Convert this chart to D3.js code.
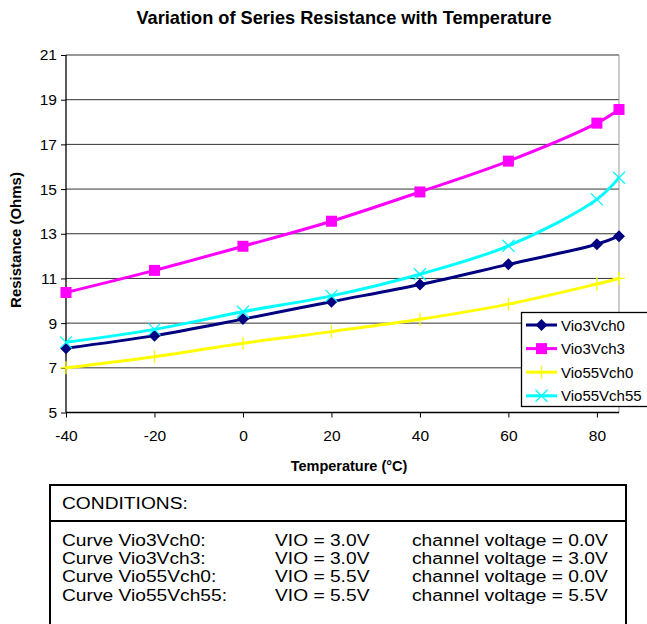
<!DOCTYPE html>
<html>
<head>
<meta charset="utf-8">
<script src="https://cdn.jsdelivr.net/npm/d3@7"></script>
<style>
  body { margin: 0; background: #fff; }
  text { font-family: "Liberation Sans", Arial, sans-serif; }
</style>
</head>
<body>
<div class="container"></div>
<script>
// data
var temps = [-40, -20, 0, 20, 40, 60, 80, 85];
var vio3vch0   = [7.88, 8.44, 9.18, 9.96, 10.73, 11.63, 12.53, 12.89];
var vio3vch3   = [10.37, 11.36, 12.44, 13.56, 14.87, 16.25, 17.95, 18.56];
var vio55vch0  = [7.0, 7.5, 8.1, 8.62, 9.17, 9.85, 10.75, 11.0];
var vio55vch55 = [8.14, 8.72, 9.51, 10.22, 11.19, 12.46, 14.54, 15.51];
var seriesNames = ["Vio3Vch0", "Vio3Vch3", "Vio55Vch0", "Vio55Vch55"];
var xTicks = [-40, -20, 0, 20, 40, 60, 80];
var yTicks = [5, 7, 9, 11, 13, 15, 17, 19, 21];
var condRows = [
  ["Curve Vio3Vch0:", "VIO = 3.0V", "channel voltage = 0.0V"],
  ["Curve Vio3Vch3:", "VIO = 3.0V", "channel voltage = 3.0V"],
  ["Curve Vio55Vch0:", "VIO = 5.5V", "channel voltage = 0.0V"],
  ["Curve Vio55Vch55:", "VIO = 5.5V", "channel voltage = 5.5V"]
];

var width = 647, height = 624;
var plot = {left: 66, right: 619, top: 55, bottom: 412.5};

var x_scale = d3.scaleLinear().domain([-40, 85]).range([plot.left, plot.right]);
var y_scale = d3.scaleLinear().domain([5, 21]).range([plot.bottom, plot.top]);

var colors = ["#000080", "#ff00ff", "#ffff00", "#00ffff"];
var markers = ["diamond", "square", "plus", "cross"];
var seriesVals = [vio3vch0, vio3vch3, vio55vch0, vio55vch55];

var series = seriesNames.map(function(name, i) {
  return {
    name: name, color: colors[i], marker: markers[i],
    values: temps.map(function(t, j) { return [t, seriesVals[i][j]]; })
  };
});

var svg = d3.select("div.container").append("svg")
    .attr("width", width)
    .attr("height", height);

// title
svg.append("text")
    .attr("x", 344).attr("y", 24)
    .attr("text-anchor", "middle")
    .attr("font-weight", "bold")
    .attr("font-size", "18.2px")
    .text("Variation of Series Resistance with Temperature");

// gridlines
svg.append("g")
    .selectAll("line")
    .data(yTicks.slice(1))
    .enter().append("line")
    .attr("x1", plot.left).attr("x2", plot.right)
    .attr("y1", function(d) { return y_scale(d); })
    .attr("y2", function(d) { return y_scale(d); })
    .attr("stroke", "#333")
    .attr("stroke-width", 1);

// right border
svg.append("line")
    .attr("x1", plot.right).attr("x2", plot.right)
    .attr("y1", plot.top).attr("y2", plot.bottom)
    .attr("stroke", "#999");

// Add the Y Axis
var yAxis = svg.append("g")
    .attr("transform", "translate(" + plot.left + ",0)")
    .call(d3.axisLeft(y_scale).tickValues(yTicks).tickSize(5).tickPadding(4)
      .tickFormat(function(d) { return String(d); }));

// Add the X Axis
var xAxis = svg.append("g")
    .attr("transform", "translate(0," + plot.bottom + ")")
    .call(d3.axisBottom(x_scale).tickValues(xTicks).tickSize(5).tickPadding(12)
      .tickFormat(function(d) { return String(d); }));

[yAxis, xAxis].forEach(function(ax) {
  ax.select(".domain").attr("stroke", "#000").attr("stroke-width", 1.3);
  ax.selectAll(".tick line").attr("stroke", "#000");
  ax.selectAll(".tick text")
      .attr("font-family", "Liberation Sans, Arial, sans-serif")
      .attr("font-size", "15.5px")
      .attr("fill", "#000");
});
yAxis.select(".domain").attr("d", "M0," + plot.bottom + "V" + plot.top);
xAxis.select(".domain").attr("d", "M" + plot.left + ",0H" + plot.right);

// axis labels
svg.append("text")
    .attr("transform", "translate(21," + 240 + ") rotate(-90)")
    .attr("text-anchor", "middle")
    .attr("font-weight", "bold")
    .attr("font-size", "15px")
    .text("Resistance (Ohms)");

svg.append("text")
    .attr("x", 349).attr("y", 471)
    .attr("text-anchor", "middle")
    .attr("font-weight", "bold")
    .attr("font-size", "14.5px")
    .text("Temperature (\u00B0C)");

var line = d3.line()
    .curve(d3.curveCatmullRom.alpha(0.5))
    .x(function(d) { return x_scale(d[0]); })
    .y(function(d) { return y_scale(d[1]); });

function drawMarker(g, type, color) {
  if (type == "diamond") {
    g.append("path").attr("d", "M0,-6L6,0L0,6L-6,0Z").attr("fill", color);
  } else if (type == "square") {
    g.append("rect").attr("x", -5.5).attr("y", -5.5).attr("width", 11).attr("height", 11).attr("fill", color);
  } else if (type == "plus") {
    g.append("path").attr("d", "M-6,0H6M0,-6.5V6.5").attr("stroke", color).attr("stroke-width", 1.3);
  } else {
    g.append("path").attr("d", "M-6,-6L6,6M-6,6L6,-6").attr("stroke", color).attr("stroke-width", 1.3);
  }
}

series.forEach(function(s) {
  svg.append("path")
      .datum(s.values)
      .attr("fill", "none")
      .attr("stroke", s.color)
      .attr("stroke-width", 3)
      .attr("stroke-linejoin", "round")
      .attr("d", line);

  s.values.forEach(function(d) {
    var g = svg.append("g")
        .attr("transform", "translate(" + x_scale(d[0]) + "," + y_scale(d[1]) + ")");
    drawMarker(g, s.marker, s.color);
  });
});

// legend
var legend = svg.append("g");
legend.append("rect")
    .attr("x", 521.5).attr("y", 312.5)
    .attr("width", 140).attr("height", 94)
    .attr("fill", "#fff")
    .attr("stroke", "#000")
    .attr("stroke-width", 1.3);

series.forEach(function(s, i) {
  var ly = 325 + i * 23.6;
  var g = legend.append("g").attr("transform", "translate(0," + ly + ")");
  g.append("line")
      .attr("x1", 526).attr("x2", 557)
      .attr("stroke", s.color).attr("stroke-width", 3);
  drawMarker(g.append("g").attr("transform", "translate(541.5,0)"), s.marker, s.color);
  g.append("text")
      .attr("x", 561).attr("y", 5.5)
      .attr("font-size", "15px")
      .text(s.name);
});

// conditions box
var cond = svg.append("g");
cond.append("rect")
    .attr("x", 50).attr("y", 485)
    .attr("width", 576).attr("height", 160)
    .attr("fill", "none")
    .attr("stroke", "#000")
    .attr("stroke-width", 2);
cond.append("line")
    .attr("x1", 50).attr("x2", 626)
    .attr("y1", 521).attr("y2", 521)
    .attr("stroke", "#000")
    .attr("stroke-width", 2);

// the text in the box is a bit wider than plain Arial
var stretch = 1.13;
cond.append("text")
    .attr("transform", "translate(62,509) scale(" + stretch + ",1)")
    .attr("font-size", "17px")
    .text("CONDITIONS:");

var colX = [62, 275, 412];
condRows.forEach(function(row, i) {
  row.forEach(function(txt, j) {
    cond.append("text")
        .attr("transform", "translate(" + colX[j] + "," + (546 + i * 18.2) + ") scale(" + stretch + ",1)")
        .attr("font-size", "17px")
        .text(txt);
  });
});
</script>
</body>
</html>
